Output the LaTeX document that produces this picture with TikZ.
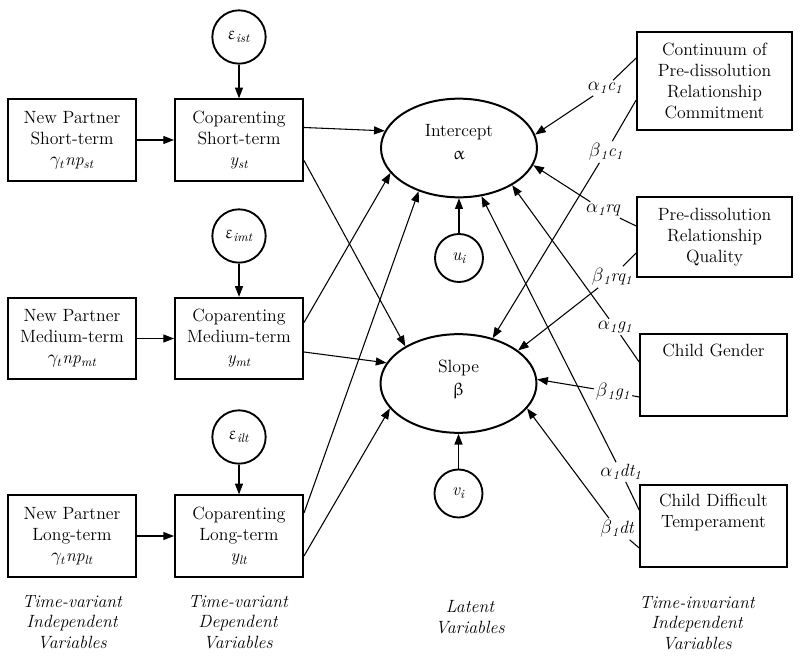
\documentclass[tikz,border=0pt]{standalone}
\usepackage{upgreek}
\usetikzlibrary{shapes.geometric,arrows.meta,calc}
\newcommand{\gal}{\ensuremath{\alpha}}
\newcommand{\gbe}{\ensuremath{\beta}}
\newcommand{\sub}[1]{\textsubscript{#1}}
\newcommand{\dep}{\rule[-9pt]{0pt}{0pt}}
\begin{document}
\begin{tikzpicture}[x=0.75pt,y=-0.75pt,
  font=\fontsize{13.3}{15.75}\selectfont,
  box/.style={draw,line width=1.5pt,rectangle,minimum width=96pt,minimum height=61pt,align=center,inner sep=0pt},
  rbox/.style={draw,line width=1.5pt,rectangle,align=center,inner sep=0pt},
  errc/.style={draw,circle,line width=1.4pt,minimum size=40pt,inner sep=0pt},
  resc/.style={draw,circle,line width=1.4pt,minimum size=36pt,inner sep=0pt},
  lat/.style={draw,ellipse,line width=1.5pt,minimum width=117pt,minimum height=74pt,align=center,inner sep=0pt,font=\fontsize{13.3}{17.5}\selectfont},
  conn/.style={line width=0.8pt,-{Triangle[length=8pt,width=6pt]}},
  coef/.style={font=\fontsize{13.3}{15}\selectfont\itshape,inner sep=1.5pt},
  captxt/.style={font=\fontsize{13.3}{15.5}\selectfont\itshape,align=center}]
\useasboundingbox (0,0) rectangle (800,656);

% left column
\node[box] (np1) at (72,140) {New Partner\\Short-term\\$\gamma_t$\textit{np\sub{st}}};
\node[box] (cp1) at (239,140) {Coparenting\\Short-term\\\textit{y\sub{st}}};
\node[box] (np2) at (72,338.5) {New Partner\\Medium-term\\$\gamma_t$\textit{np\sub{mt}}};
\node[box] (cp2) at (239,338.5) {Coparenting\\Medium-term\\\textit{y\sub{mt}}};
\node[box] (np3) at (72,536) {New Partner\\Long-term\\$\gamma_t$\textit{np\sub{lt}}};
\node[box] (cp3) at (239,536) {Coparenting\\Long-term\\\textit{y\sub{lt}}};

\node[errc] (e1) at (239,37) {$\upvarepsilon$\sub{\textit{ist}}};
\node[errc] (e2) at (239,236) {$\upvarepsilon$\sub{\textit{imt}}};
\node[errc] (e3) at (239,437) {$\upvarepsilon$\sub{\textit{ilt}}};

% latent
\node[lat] (icpt) at (459,148) {Intercept\\$\upalpha$\dep};
\node[lat] (slope) at (458.5,383.5) {Slope\\$\upbeta$\dep};
\node[resc] (ui) at (459,258) {\textit{u\sub{i}}};
\node[resc] (vi) at (458.5,493.5) {\textit{v\sub{i}}};

% right column
\node[rbox,minimum width=116pt,minimum height=73.5pt] (cc) at (714.5,81) {Continuum of\\Pre-dissolution\\Relationship\\Commitment};
\node[rbox,minimum width=116pt,minimum height=60pt] (prq) at (714.5,237) {Pre-dissolution\\Relationship\\Quality};
\node[rbox,minimum width=110pt,minimum height=61.5pt,
  label={[anchor=north,inner sep=0pt,yshift=-8pt]north:Child Gender}] (cg) at (713.5,375) {};
\node[rbox,minimum width=110pt,minimum height=61.5pt,
  label={[anchor=north,inner sep=0pt,yshift=-7.5pt,align=center]north:Child Difficult\\Temperament}] (cdt) at (713.5,526) {};

% coefficient labels
\node[coef] (l1) at (605,88) {\gal\sub{1}c\sub{1}};
\node[coef] (l2) at (606,152) {\gbe\sub{1}c\sub{1}};
\node[coef] (l3) at (603,210) {\gal\sub{1}rq};
\node[coef] (l4) at (612,277) {\gbe\sub{1}rq\sub{1}};
\node[coef] (l5) at (615,327) {\gal\sub{1}g\sub{1}};
\node[coef] (l6) at (613,392) {\gbe\sub{1}g\sub{1}};
\node[coef] (l7) at (621,472) {\gal\sub{1}dt\sub{1}};
\node[coef] (l8) at (617,529) {\gbe\sub{1}dt};

% captions
\node[captxt] (t1) at (72,622) {Time-variant\\Independent\\Variables};
\node[captxt] (t2) at (238,622) {Time-variant\\Dependent\\Variables};
\node[captxt] (t3) at (470,617) {Latent\\Variables};
\node[captxt] (t4) at (697,623) {Time-invariant\\Independent\\Variables};

% connectors left
\draw[conn] (np1) -- (cp1);
\draw[conn] (np2) -- (cp2);
\draw[conn] (np3) -- (cp3);
\draw[conn] (e1) -- (cp1);
\draw[conn] (e2) -- (cp2);
\draw[conn] (e3) -- (cp3);
\draw[conn] (ui) -- (icpt);
\draw[conn] (vi) -- (slope);

\draw[conn] ($(cp1.east)+(0,-12.5)$) -- (icpt.167);
\draw[conn] ($(cp1.east)+(0,20.5)$) -- (slope.145);
\draw[conn] ($(cp2.east)+(0,-16)$) -- (icpt.200);
\draw[conn] ($(cp2.east)+(0,13.5)$) -- (slope.164);
\draw[conn] ($(cp3.east)+(0,-23)$) -- (icpt.227);
\draw[conn] ($(cp3.east)+(0,20)$) -- (slope.200);

% connectors right
\draw[conn] ($(cc.west)+(0,-23)$) -- (l1) -- (icpt.10);
\draw[conn] ($(cc.west)+(0,19)$) -- (l2) -- (slope.53);
\draw[conn] ($(prq.west)+(0,-11)$) -- (l3) -- (icpt.347);
\draw[conn] ($(prq.west)+(0,16)$) -- (l4) -- (slope.29.5);
\draw[conn] ($(cg.west)+(0,-13)$) -- (l5) -- (icpt.325.5);
\draw[conn] ($(cg.west)+(0,22)$) -- (l6) -- (slope.3.6);
\draw[conn] ($(cdt.west)+(0,-16)$) -- (l7) -- (icpt.295);
\draw[conn] ($(cdt.west)+(0,22)$) -- (l8) -- (slope.340);
\end{tikzpicture}
\end{document}
